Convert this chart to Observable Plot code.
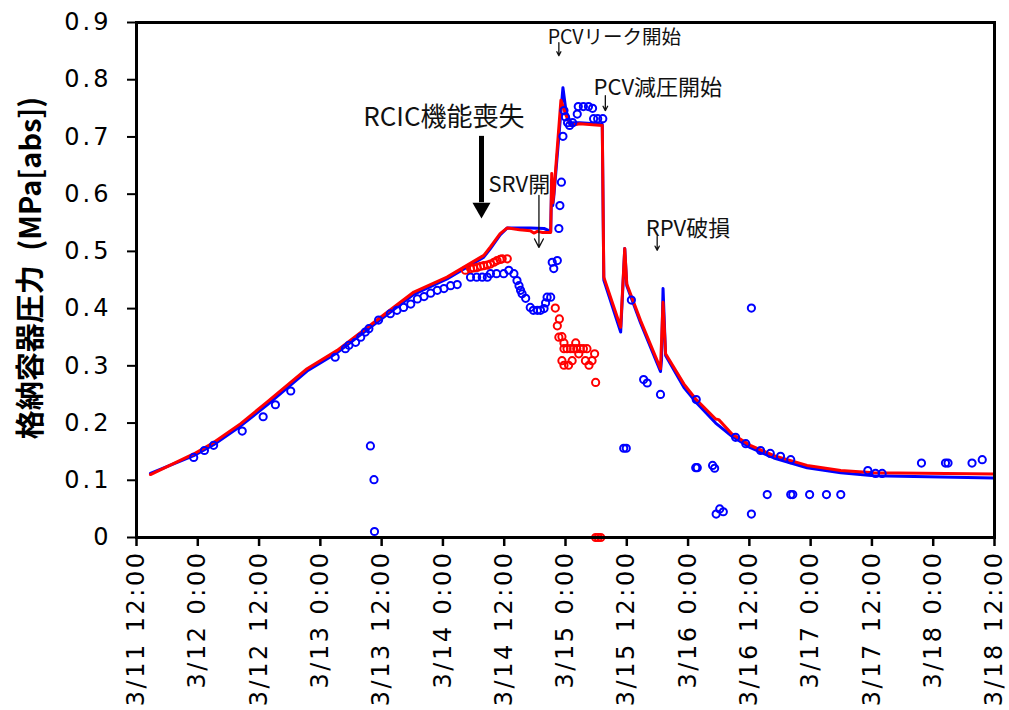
<!DOCTYPE html>
<html><head><meta charset="utf-8">
<script src="https://cdn.jsdelivr.net/npm/d3@7"></script>
<script src="https://cdn.jsdelivr.net/npm/@observablehq/plot@0.6"></script>
<style>
body{margin:0;background:#fff;}
#chart svg{display:block;}
g[aria-label="y-axis tick label"] text{letter-spacing:3px}
g[aria-label="x-axis tick label"] text{letter-spacing:2.5px}
</style></head><body><div id="chart"></div>
<script>
// ---- data ----
const calcBlueTimes = ["3/11 14:44","3/11 23:12","3/12 03:06","3/12 08:24","3/12 13:36","3/12 21:24","3/13 03:18","3/13 11:48","3/13 18:18","3/14 00:48","3/14 08:00","3/14 09:18","3/14 11:12","3/14 12:36","3/14 17:06","3/14 19:48","3/14 21:06","3/14 21:18","3/14 21:30","3/14 21:42","3/14 23:30","3/15 00:06","3/15 01:00","3/15 02:48","3/15 07:12","3/15 07:30","3/15 10:48","3/15 11:36","3/15 12:00","3/15 14:42","3/15 18:36","3/15 18:48","3/15 19:06","3/15 19:36","3/15 23:12","3/16 01:30","3/16 05:24","3/16 08:36","3/16 12:12","3/16 16:48","3/16 23:18","3/17 05:54","3/17 12:24","3/18 11:54"];
const calcBlueValues = [0.112,0.143,0.162,0.195,0.232,0.291,0.323,0.381,0.425,0.452,0.490,0.505,0.529,0.541,0.541,0.540,0.535,0.625,0.580,0.595,0.786,0.745,0.725,0.725,0.722,0.450,0.359,0.505,0.440,0.375,0.290,0.310,0.435,0.318,0.262,0.237,0.200,0.177,0.157,0.139,0.122,0.113,0.108,0.104];

const calcRedTimes = ["3/11 14:44","3/11 23:12","3/12 03:06","3/12 08:24","3/12 13:36","3/12 21:24","3/13 03:18","3/13 11:48","3/13 18:18","3/14 00:48","3/14 08:00","3/14 09:18","3/14 11:12","3/14 12:36","3/14 15:00","3/14 17:06","3/14 17:48","3/14 18:30","3/14 19:30","3/14 21:06","3/14 21:18","3/14 21:30","3/14 21:42","3/14 23:06","3/15 00:00","3/15 01:00","3/15 02:48","3/15 07:12","3/15 07:30","3/15 10:48","3/15 11:36","3/15 12:00","3/15 14:42","3/15 18:36","3/15 19:06","3/15 19:36","3/15 23:12","3/16 01:30","3/16 05:24","3/16 06:00","3/16 08:36","3/16 12:12","3/16 16:48","3/16 23:18","3/17 05:54","3/17 12:24","3/18 11:54"];
const calcRedValues = [0.110,0.146,0.166,0.199,0.237,0.295,0.327,0.385,0.429,0.455,0.493,0.508,0.531,0.541,0.538,0.536,0.532,0.535,0.533,0.533,0.636,0.585,0.600,0.764,0.740,0.720,0.723,0.720,0.455,0.3675,0.505,0.443,0.379,0.295,0.411,0.321,0.268,0.242,0.207,0.206,0.181,0.161,0.143,0.126,0.117,0.113,0.111];

const measBlueTimes = ["3/11 23:12","3/12 01:18","3/12 03:06","3/12 08:42","3/12 12:48","3/12 15:12","3/12 18:12","3/13 02:54","3/13 04:54","3/13 05:36","3/13 06:54","3/13 07:54","3/13 08:48","3/13 09:30","3/13 11:24","3/13 09:48","3/13 10:30","3/13 10:36","3/13 13:42","3/13 15:00","3/13 16:18","3/13 17:42","3/13 19:00","3/13 20:18","3/13 21:36","3/13 22:54","3/14 00:12","3/14 01:30","3/14 02:48","3/14 05:24","3/14 06:36","3/14 07:42","3/14 08:42","3/14 09:18","3/14 10:30","3/14 11:54","3/14 12:54","3/14 13:54","3/14 14:30","3/14 14:54","3/14 15:12","3/14 15:30","3/14 16:12","3/14 17:06","3/14 17:42","3/14 18:30","3/14 19:06","3/14 19:48","3/14 20:06","3/14 20:24","3/14 21:06","3/14 21:24","3/14 21:42","3/14 22:24","3/14 22:42","3/14 22:54","3/14 23:12","3/14 23:30","3/14 23:42","3/15 00:00","3/15 00:24","3/15 00:48","3/15 01:24","3/15 02:18","3/15 02:30","3/15 03:30","3/15 04:30","3/15 05:18","3/15 05:30","3/15 06:18","3/15 07:18","3/15 12:54","3/15 15:18","3/15 16:00","3/15 18:36","3/15 11:24","3/15 11:54","3/16 01:30","3/16 01:48","3/16 04:48","3/16 05:12","3/16 05:30","3/16 06:12","3/16 06:54","3/16 12:24","3/16 12:24","3/16 15:30","3/16 20:06","3/16 20:30","3/16 23:48","3/17 03:06","3/17 05:54","3/17 21:42","3/18 02:24","3/18 02:54","3/18 07:36","3/18 09:36","3/17 11:12","3/17 12:42","3/17 14:00","3/16 01:36","3/16 09:18","3/16 11:18","3/16 14:12","3/16 16:06","3/16 18:06","3/16 20:06"];
const measBlueValues = [0.140,0.152,0.161,0.186,0.211,0.232,0.256,0.315,0.330,0.336,0.341,0.350,0.359,0.365,0.380,0.160,0.101,0.0105,0.391,0.397,0.402,0.408,0.417,0.421,0.427,0.432,0.435,0.440,0.442,0.455,0.455,0.455,0.455,0.461,0.461,0.461,0.467,0.461,0.449,0.440,0.432,0.426,0.418,0.402,0.397,0.397,0.397,0.400,0.410,0.420,0.420,0.481,0.470,0.484,0.540,0.580,0.621,0.701,0.746,0.735,0.725,0.720,0.725,0.740,0.753,0.753,0.753,0.750,0.732,0.732,0.732,0.415,0.276,0.270,0.250,0.156,0.156,0.122,0.122,0.126,0.121,0.041,0.050,0.045,0.401,0.041,0.075,0.075,0.075,0.075,0.075,0.075,0.130,0.130,0.130,0.130,0.136,0.117,0.112,0.112,0.241,0.175,0.164,0.152,0.147,0.142,0.136];

const measRedTimes = ["3/14 04:24","3/14 05:24","3/14 06:00","3/14 06:42","3/14 07:24","3/14 08:00","3/14 08:42","3/14 09:18","3/14 10:00","3/14 10:36","3/14 11:12","3/14 11:36","3/14 12:36","3/14 22:00","3/14 22:48","3/14 22:24","3/14 22:42","3/14 23:18","3/14 23:42","3/14 23:42","3/15 00:18","3/15 01:00","3/15 01:36","3/15 02:12","3/15 02:54","3/15 03:30","3/15 04:12","3/14 23:18","3/14 23:42","3/15 00:36","3/15 01:18","3/15 02:00","3/15 02:36","3/15 03:54","3/15 04:36","3/15 05:12","3/15 05:42","3/15 05:54","3/15 05:54","3/15 06:24","3/15 06:54"];
const measRedValues = [0.467,0.470,0.471,0.472,0.474,0.475,0.476,0.478,0.481,0.484,0.486,0.487,0.487,0.401,0.382,0.370,0.350,0.351,0.340,0.330,0.330,0.330,0.330,0.330,0.330,0.330,0.330,0.309,0.301,0.301,0.309,0.340,0.321,0.309,0.301,0.309,0.321,0.271,0,0,0];

const noteLabels = ["RCIC機能喪失","SRV開","PCVリーク開始","PCV減圧開始","RPV破損"];
const noteTimes = ["3/13 08:24","3/14 08:54","3/14 20:30","3/15 05:30","3/15 15:42"];
const noteValues = [0.733,0.616,0.874,0.786,0.5395];

const arrowTimes = ["3/14 18:48","3/14 22:42","3/15 07:48","3/15 17:57"];
const arrowFrom = [0.598,0.865,0.772,0.526];
const arrowTo = [0.507,0.842,0.746,0.502];

const bigArrowTime = "3/14 07:33";
const bigArrowFrom = 0.701;
const bigArrowBase = 0.585;
const bigArrowHead = 0.5757;

const yTicks = [0,0.1,0.2,0.3,0.4,0.5,0.6,0.7,0.8,0.9];
const yLabel = "格納容器圧力\u2002(MPa[abs])";
const xStart = "3/11 12:00", xEnd = "3/18 12:00";

// ---- build ----
const t = s => { const [d, hm] = s.split(" "); const [mo, da] = d.split("/").map(Number); const [h, m] = hm.split(":").map(Number); return new Date(Date.UTC(2011, mo - 1, da, h, m)); };
const zip = (ts, vs) => ts.map((s, i) => ({time: t(s), value: vs[i]}));
const calcBlue = zip(calcBlueTimes, calcBlueValues);
const calcRed = zip(calcRedTimes, calcRedValues);
const measBlue = zip(measBlueTimes, measBlueValues);
const measRed = zip(measRedTimes, measRedValues);
const noteSize = [26, 22, 19.5, 22, 22];
const notes = noteLabels.map((l, i) => ({label: l, time: t(noteTimes[i]), value: noteValues[i], size: noteSize[i]}));
const arrows = arrowTimes.map((s, i) => ({time: t(s), from: arrowFrom[i], to: arrowTo[i]}));
const big = [{time: t(bigArrowTime), from: bigArrowFrom, base: bigArrowBase, head: bigArrowHead}];
const xTicks = d3.utcHour.every(12).range(t(xStart), new Date(+t(xEnd) + 1));
const fmtX = d => `${d.getUTCMonth() + 1}/${d.getUTCDate()} ${d.getUTCHours()}:00`;

const plot = Plot.plot({
  width: 1009, height: 710,
  marginLeft: 136, marginRight: 15, marginTop: 22, marginBottom: 173,
  style: {fontFamily: "DejaVu Sans", fontSize: "24px", color: "#000", background: "#fff"},
  x: {type: "utc", domain: [t(xStart), t(xEnd)]},
  y: {domain: [0, 0.9]},
  marks: [
    Plot.axisY({ticks: yTicks, tickFormat: d => d === 0 ? "0" : d.toFixed(1), tickSize: 9, tickPadding: 16, strokeWidth: 2, fontSize: 24, label: null}),
    Plot.axisX({ticks: xTicks, tickFormat: fmtX, tickRotate: -90, tickSize: 9, tickPadding: 4, strokeWidth: 2.5, fontSize: 24, label: null}),
    Plot.text([yLabel], {frameAnchor: "left", textAnchor: "middle", lineAnchor: "middle", text: d => d, rotate: -90, dx: -104.5, dy: -12, fontSize: 29, fontWeight: "bold", fontFamily: "Noto Sans CJK JP", fill: "#000"}),
    Plot.line(calcBlue, {x: "time", y: "value", stroke: "#0000ff", strokeWidth: 3}),
    Plot.line(calcRed, {x: "time", y: "value", stroke: "#ff0000", strokeWidth: 3}),
    Plot.dot(measBlue, {x: "time", y: "value", r: 3.6, stroke: "#0000ff", strokeWidth: 2, fill: "none"}),
    Plot.dot(measRed, {x: "time", y: "value", r: 3.6, stroke: "#ff0000", strokeWidth: 2, fill: "none"}),
    Plot.text(notes, {x: "time", y: "value", text: "label", textAnchor: "start", fontSize: d => d.size, fontFamily: "Noto Sans CJK JP", fill: "#111"}),
    Plot.arrow(arrows, {x1: "time", x2: "time", y1: "from", y2: "to", stroke: "#111", strokeWidth: 1.3, headLength: 11, headAngle: 55, bend: 0}),
    Plot.ruleX(big, {x: "time", y1: "from", y2: "base", stroke: "#000", strokeWidth: 5}),
    Plot.dot(big, {x: "time", y: "head", symbol: "triangle", rotate: 180, r: 6.7, fill: "#000", stroke: "none"}),
    Plot.frame({stroke: "#000", strokeWidth: 3})
  ]
});
document.getElementById("chart").appendChild(plot);
</script></body></html>
